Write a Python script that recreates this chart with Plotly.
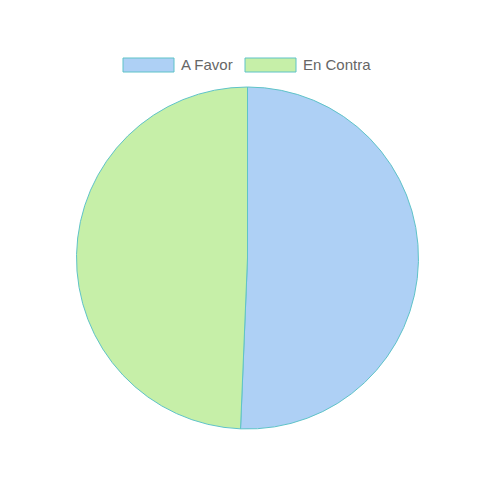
import plotly.graph_objects as go

W, H = 482, 491
# the page body has a default 8px margin, so positions are taken relative to it
OFF_X, OFF_Y = 8, 7

labels = ["A Favor", "En Contra"]
votes = [39, 38]
fill_colors = ["#aed0f5", "#c6efa8"]
edge_color = "#5fc3c8"


def px_x(x):
    return (x - OFF_X) / W


def px_y(y):
    return 1 - (y - OFF_Y) / H


fig = go.Figure(
    go.Pie(
        labels=labels,
        values=votes,
        sort=False,
        direction="clockwise",
        rotation=0,
        textinfo="none",
        hoverinfo="label+value",
        marker=dict(colors=fill_colors, line=dict(color=edge_color, width=1)),
        domain=dict(x=[px_x(76), px_x(419)], y=[px_y(428), px_y(86)]),
        showlegend=False,
    )
)

# legend drawn by hand, chart.js style wide boxes
legend_boxes = [(123, 174), (245, 296)]
shapes = []
annotations = []
for (x0, x1), label, col in zip(legend_boxes, labels, fill_colors):
    shapes.append(dict(
        type="rect", xref="paper", yref="paper",
        x0=px_x(x0), x1=px_x(x1), y0=px_y(71), y1=px_y(57),
        fillcolor=col, line=dict(color=edge_color, width=1),
    ))
    annotations.append(dict(
        x=px_x(x1 + 5), y=px_y(64), xref="paper", yref="paper",
        text=label, showarrow=False, xanchor="left", yanchor="middle",
        font=dict(family="Liberation Sans, Arial", size=15, color="#666666"),
    ))

fig.update_layout(
    width=W, height=H,
    margin=dict(l=0, r=0, t=0, b=0),
    paper_bgcolor="white",
    plot_bgcolor="white",
    shapes=shapes,
    annotations=annotations,
)

fig.write_html("out.html")
